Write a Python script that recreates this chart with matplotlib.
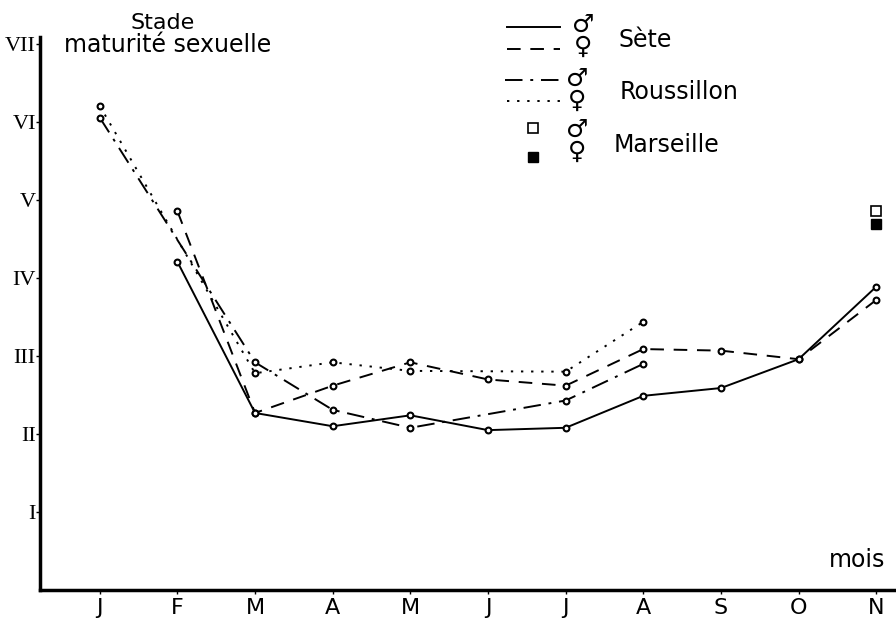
import matplotlib.pyplot as plt
from matplotlib.lines import Line2D

months = ["J", "F", "M", "A", "M", "J", "J", "A", "S", "O", "N"]
stages = ["I", "II", "III", "IV", "V", "VI", "VII"]

# Sète: Feb -> Nov
sete_idx = [1, 2, 3, 4, 5, 6, 7, 8, 9, 10]
sete_male = [4.21, 2.27, 2.10, 2.24, 2.05, 2.08, 2.49, 2.59, 2.96, 3.89]
sete_female = [4.86, 2.27, 2.62, 2.92, 2.70, 2.62, 3.09, 3.07, 2.96, 3.72]

# Roussillon: Jan, Mar, Apr, May, Jul, Aug
rous_idx = [0, 2, 3, 4, 6, 7]
rous_male = [6.06, 2.92, 2.31, 2.08, 2.43, 2.90]
rous_female = [6.21, 2.78, 2.92, 2.81, 2.80, 3.44]

# Marseille: Nov only
mars_idx = [10]
mars_male = [4.86]
mars_female = [4.69]

fig = plt.figure(figsize=(8.96, 6.19), dpi=100)
ax = fig.add_axes([0.0446, 0.047, 0.955, 0.894])

mk = dict(marker="o", markersize=4.2, markerfacecolor="white",
          markeredgecolor="black", markeredgewidth=1.5, color="black", lw=1.4)

ax.plot(sete_idx, sete_male, linestyle="-", **mk)
ax.plot(sete_idx, sete_female, linestyle=(0, (7, 5)), **mk)
ax.plot(rous_idx, rous_male, linestyle=(0, (9, 4, 1.5, 4)), **mk)
ax.plot(rous_idx, rous_female, linestyle=(0, (1.2, 4)), **mk)
ax.plot(mars_idx, mars_male, "s", ms=7, mfc="white", mec="black", mew=1.2)
ax.plot(mars_idx, mars_female, "s", ms=7, mfc="black", mec="black")

ax.set_xlim(-0.77, 10.25)
ax.set_ylim(0, 7.1)
ax.set_xticks(range(len(months)))
ax.set_xticklabels(months, fontsize=16, family="DejaVu Sans")
ax.set_yticks(range(1, 8))
ax.set_yticklabels(stages, fontsize=16, family="Liberation Serif")
ax.tick_params(axis="both", length=3, width=1, direction="out")
ax.tick_params(axis="x", pad=3)
ax.tick_params(axis="y", pad=0)

for s in ["top", "right"]:
    ax.spines[s].set_visible(False)
ax.spines["left"].set_linewidth(2.5)
ax.spines["bottom"].set_linewidth(2.5)

W, H = 896, 619

# titles
fig.text(163 / W, 1 - 23 / H, "Stade", ha="center", va="center", fontsize=16)
fig.text(168 / W, 1 - 45 / H, "maturité sexuelle", ha="center", va="center", fontsize=17)
fig.text(857 / W, 1 - 560 / H, "mois", ha="center", va="center", fontsize=17)

# hand-drawn legend
def fl(x0, x1, y, ls):
    fig.add_artist(Line2D([x0 / W, x1 / W], [1 - y / H, 1 - y / H], color="black",
                          lw=1.4, linestyle=ls, transform=fig.transFigure))

fl(507, 560, 27, "-")
fl(507, 560, 49, (0, (7, 5)))
fl(505, 560, 80, (0, (9, 4, 1.5, 4)))
fl(507, 560, 101, (0, (1.2, 4)))
fig.add_artist(Line2D([533 / W], [1 - 128 / H], marker="s", ms=7, mfc="white",
                      mec="black", mew=1.2, transform=fig.transFigure))
fig.add_artist(Line2D([533 / W], [1 - 157 / H], marker="s", ms=7, mfc="black",
                      mec="black", transform=fig.transFigure))

for x0, y0 in [(583, 28), (577, 82), (577, 133)]:
    fig.text(x0 / W, 1 - (y0 - 3) / H, "♂", ha="center", va="center", fontsize=18)
    fig.text(x0 / W, 1 - (y0 + 19) / H, "♀", ha="center", va="center", fontsize=18)
fig.text(618 / W, 1 - 40 / H, "Sète", ha="left", va="center", fontsize=17)
fig.text(620 / W, 1 - 92 / H, "Roussillon", ha="left", va="center", fontsize=17)
fig.text(614 / W, 1 - 145 / H, "Marseille", ha="left", va="center", fontsize=17)

fig.savefig("out.png", dpi=100)
